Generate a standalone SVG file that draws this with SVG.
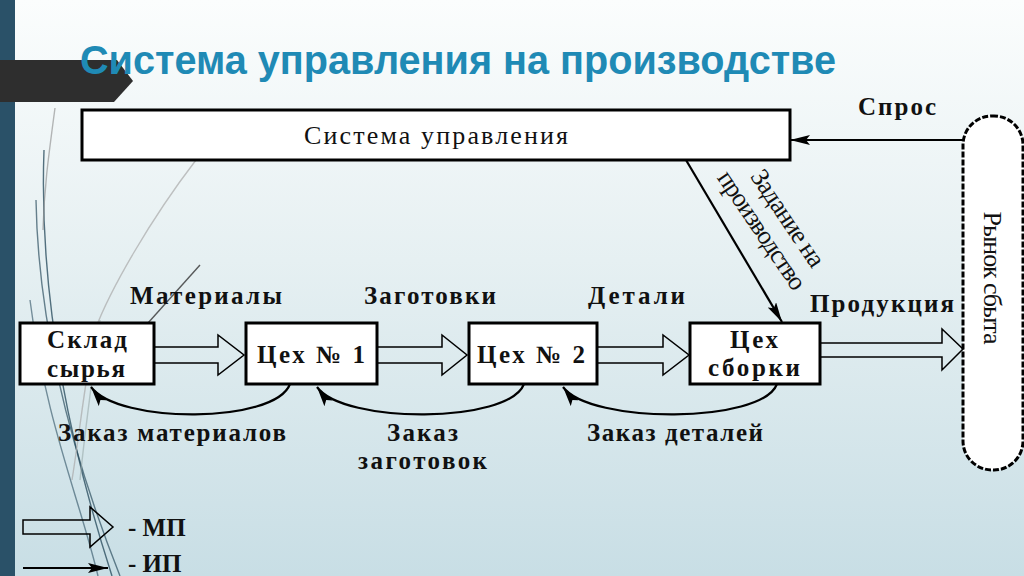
<svg xmlns="http://www.w3.org/2000/svg" width="1024" height="576" viewBox="0 0 1024 576">
  <defs>
    <linearGradient id="bg" x1="0" y1="0" x2="0" y2="1">
      <stop offset="0" stop-color="#fbfdfd"/>
      <stop offset="0.45" stop-color="#e6f0f2"/>
      <stop offset="1" stop-color="#c8dee5"/>
    </linearGradient>
    <marker id="ah" viewBox="0 0 20 10" refX="20" refY="5" markerWidth="20" markerHeight="10" markerUnits="userSpaceOnUse" orient="auto">
      <path d="M0,0 L20,5 L0,10 L4,5 z" fill="#000"/>
    </marker>
    <style>
      .box { fill: #fff; stroke: #000; stroke-width: 3; }
      .mp { fill: none; stroke: #000; stroke-width: 1.5; stroke-linejoin: miter; }
      .ip { fill: none; stroke: #000; stroke-width: 2.2; marker-end: url(#ah); }
      .t { font-family: "Liberation Serif", "Times New Roman", serif; font-size: 25px; font-weight: bold; fill: #111; }
      .tn { font-family: "Liberation Serif", "Times New Roman", serif; font-size: 26px; fill: #111; }
      .deco { fill: none; stroke-width: 1.4; }
    </style>
  </defs>

  <!-- background -->
  <rect x="0" y="0" width="1024" height="576" fill="url(#bg)"/>
  <g id="decor">
    <path class="deco" d="M44,150 C40,260 55,400 112,576" stroke="#2c4f60" stroke-opacity="0.8"/>
    <path class="deco" d="M36,200 C38,320 70,450 120,576" stroke="#2c4f60" stroke-opacity="0.7"/>
    <path class="deco" d="M30,300 C45,420 80,500 98,576" stroke="#2c4f60" stroke-opacity="0.6"/>
    <path class="deco" d="M55,108 C48,160 44,190 43,230" stroke="#888" stroke-opacity="0.6"/>
    <path class="deco" d="M196,160 C150,220 110,290 95,330 C85,380 80,430 72,480" stroke="#aaa" stroke-opacity="0.7"/>
    <path class="deco" d="M200,265 L148,323" stroke="#333" stroke-opacity="0.8" stroke-width="1"/>
    <path class="deco" d="M100,320 C92,380 85,430 80,480" stroke="#9aa" stroke-opacity="0.6"/>
  </g>
  <rect x="0" y="0" width="15" height="576" fill="#2a5168"/>
  <polygon points="0,60 117,60 133,81 114,102 0,102" fill="#2e2e2e"/>

  <!-- title -->
  <text x="80" y="74" font-family="'Liberation Sans', Arial, sans-serif" font-size="40" font-weight="bold" fill="#1f8ab5" textLength="756" lengthAdjust="spacingAndGlyphs">Система управления на производстве</text>

  <!-- nodes -->
  <g id="control">
    <rect class="box" x="82" y="110" width="708" height="50" stroke-width="2.5"/>
    <text class="tn" x="436" y="144" text-anchor="middle" textLength="264" lengthAdjust="spacing">Система управления</text>
  </g>
  <g id="market">
    <rect x="963" y="116" width="60" height="354" rx="29" ry="29" fill="#fff" stroke="#000" stroke-width="3" stroke-dasharray="6 2"/>
    <text class="tn" transform="translate(984,278) rotate(90)" text-anchor="middle" textLength="133" lengthAdjust="spacing">Рынок сбыта</text>
  </g>
  <g id="sklad">
    <rect class="box" x="20" y="323" width="134" height="61"/>
    <text class="t" x="87" y="348" text-anchor="middle" textLength="80" lengthAdjust="spacing">Склад</text>
    <text class="t" x="86" y="377" text-anchor="middle" textLength="78" lengthAdjust="spacing">сырья</text>
  </g>
  <g id="ceh1">
    <rect class="box" x="246" y="323" width="131" height="61"/>
    <text class="t" x="311" y="363" text-anchor="middle" textLength="108" lengthAdjust="spacing">Цех № 1</text>
  </g>
  <g id="ceh2">
    <rect class="box" x="469" y="323" width="128" height="61"/>
    <text class="t" x="531" y="363" text-anchor="middle" textLength="108" lengthAdjust="spacing">Цех № 2</text>
  </g>
  <g id="sborka">
    <rect class="box" x="690" y="323" width="130" height="61"/>
    <text class="t" x="754" y="348" text-anchor="middle" textLength="48" lengthAdjust="spacing">Цех</text>
    <text class="t" x="754" y="376" text-anchor="middle" textLength="92" lengthAdjust="spacing">сборки</text>
  </g>

  <!-- connectors -->
  <g id="connectors">
    <polygon class="mp" points="154,347 218,347 218,335 244,355 218,375 218,363 154,363"/>
    <polygon class="mp" points="377,347 442,347 442,335 467,355 442,375 442,363 377,363"/>
    <polygon class="mp" points="597,347 663,347 663,335 689,355 663,375 663,363 597,363"/>
    <polygon class="mp" points="820,343 942,343 942,329 963,349 942,370 942,357 820,357"/>

    <path class="ip" d="M963,140 L790,140"/>
    <path class="ip" d="M686,160 L782,322"/>

    <path class="ip" d="M290,384 C275,424 118,424 91,387"/>
    <path class="ip" d="M524,384 C509,424 343,424 317,387"/>
    <path class="ip" d="M777,384 C762,424 590,424 563,387"/>
  </g>

  <!-- labels -->
  <g id="labels">
    <text class="t" x="897" y="115" text-anchor="middle" textLength="78" lengthAdjust="spacing">Спрос</text>
    <text class="tn" transform="translate(781,223) rotate(56)" text-anchor="middle" font-size="22" textLength="112" lengthAdjust="spacing">Задание на</text>
    <text class="tn" transform="translate(755,235) rotate(56)" text-anchor="middle" font-size="22" textLength="138" lengthAdjust="spacing">производство</text>
    <text class="t" x="130" y="304" textLength="152" lengthAdjust="spacing">Материалы</text>
    <text class="t" x="364" y="304" textLength="132" lengthAdjust="spacing">Заготовки</text>
    <text class="t" x="588" y="304" textLength="97" lengthAdjust="spacing">Детали</text>
    <text class="t" x="810" y="312" textLength="144" lengthAdjust="spacing">Продукция</text>
    <text class="t" x="58" y="441" textLength="228" lengthAdjust="spacing">Заказ материалов</text>
    <text class="t" x="387" y="441" textLength="71" lengthAdjust="spacing">Заказ</text>
    <text class="t" x="358" y="469" textLength="129" lengthAdjust="spacing">заготовок</text>
    <text class="t" x="587" y="441" textLength="176" lengthAdjust="spacing">Заказ деталей</text>
  </g>

  <!-- legend -->
  <g id="legend">
    <polygon class="mp" points="23,520 90,520 90,507 113,527 90,547 90,534 23,534"/>
    <text class="t" x="128" y="536">- МП</text>
    <path class="ip" d="M23,568 L108,568"/>
    <text class="t" x="128" y="572" font-size="22">- ИП</text>
  </g>
</svg>
